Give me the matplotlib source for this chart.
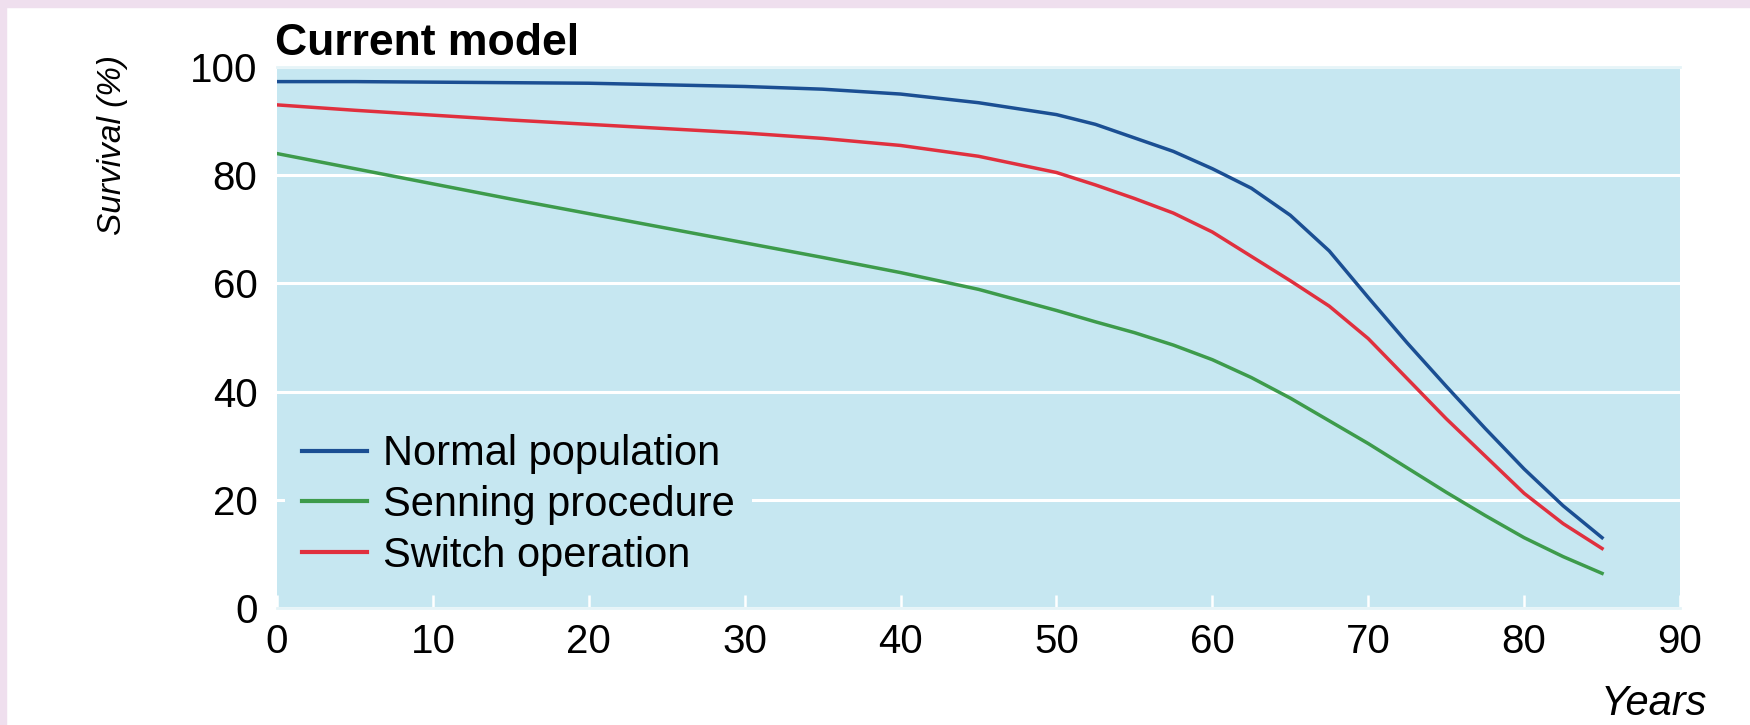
import matplotlib
matplotlib.use('Agg')
import matplotlib.pyplot as plt
from matplotlib.patches import Rectangle

plt.rcParams['font.family'] = ['Liberation Sans', 'DejaVu Sans']

years = [0, 5, 10, 15, 20, 25, 30, 35, 40, 45, 50, 52.5, 55, 57.5, 60, 62.5,
         65, 67.5, 70, 72.5, 75, 77.5, 80, 82.5, 85]
normal = [97.3, 97.3, 97.2, 97.1, 97.0, 96.7, 96.4, 95.9, 95.0, 93.4, 91.2,
          89.4, 86.9, 84.4, 81.2, 77.6, 72.6, 66.0, 57.4, 49.0, 41.0, 33.2,
          25.7, 18.9, 13.0]
senning = [84.0, 81.2, 78.4, 75.6, 72.9, 70.2, 67.5, 64.8, 62.0, 58.9, 55.0,
           52.9, 50.9, 48.6, 45.9, 42.6, 38.8, 34.6, 30.4, 25.9, 21.4, 17.1,
           13.0, 9.5, 6.4]
switch = [93.0, 92.0, 91.1, 90.2, 89.4, 88.6, 87.8, 86.8, 85.5, 83.5, 80.5,
          78.2, 75.7, 73.0, 69.5, 65.0, 60.5, 55.8, 49.8, 42.4, 35.0, 28.1,
          21.2, 15.6, 11.0]
labels = ['Normal population', 'Senning procedure', 'Switch operation']
colors = ['#1b4f93', '#3d9b4b', '#e0303e']

bg = '#c6e7f1'

fig = plt.figure(figsize=(17.5, 7.25), dpi=100)
fig.patch.set_facecolor('white')
# pink page border on top and left
fig.patches.append(Rectangle((0, 1 - 7/725), 1, 7/725, transform=fig.transFigure,
                             color='#efdfee', zorder=0))
fig.patches.append(Rectangle((0, 0), 6/1750, 1, transform=fig.transFigure,
                             color='#efdfee', zorder=0))

ax = fig.add_axes([277/1750, 117/725, 1403/1750, 541/725])
ax.set_facecolor(bg)

for y, lab, c in zip([normal, senning, switch], labels, colors):
    ax.plot(years, y, color=c, lw=2.5, label=lab, zorder=3)

ax.set_xlim(0, 90)
ax.set_ylim(0, 100)
ax.set_xticks(range(0, 91, 10))
ax.set_yticks(range(0, 101, 20))
ax.yaxis.grid(True, color='white', lw=2.2)
ax.set_axisbelow(True)

for s in ['left', 'right']:
    ax.spines[s].set_visible(False)
for s in ['top', 'bottom']:
    ax.spines[s].set_color('#e6f4f8')
    ax.spines[s].set_linewidth(2)

ax.tick_params(axis='x', direction='in', length=9.5, width=1.8, color='white',
               pad=11, labelsize=29)
ax.tick_params(axis='y', length=0, pad=14, labelsize=29)

leg = ax.legend(loc='upper left', bbox_to_anchor=(0.006, 0.352), borderaxespad=0,
                fontsize=30, handlelength=1.55, handletextpad=0.4,
                labelspacing=0.26, borderpad=0.4, frameon=True, fancybox=False)
leg.get_frame().set_facecolor(bg)
leg.get_frame().set_edgecolor('none')
leg.get_frame().set_alpha(1)
for h in leg.get_lines():
    h.set_linewidth(3)

fig.text(275/1750, 1 - 55/725, 'Current model', fontsize=32, fontweight='bold',
         ha='left', va='baseline')
fig.text(113/1750, 1 - 55/725, 'Survival (%)', fontsize=24, style='italic',
         rotation=90, ha='center', va='top')
fig.text(1707/1750, 1 - 715/725, 'Years', fontsize=30, style='italic',
         ha='right', va='baseline')

fig.savefig('out.png', dpi=100)
